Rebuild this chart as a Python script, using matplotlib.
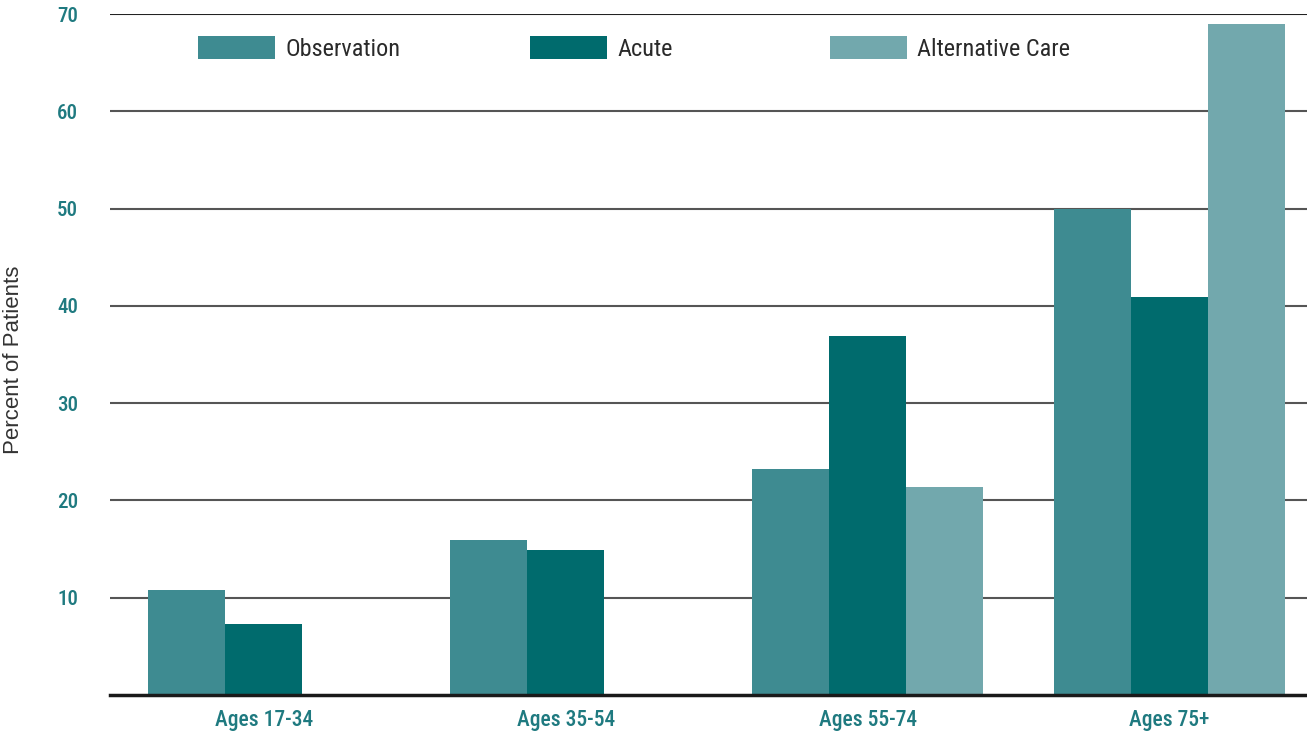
import matplotlib.pyplot as plt
import numpy as np

# data
groups = ["Ages 17-34", "Ages 35-54", "Ages 55-74", "Ages 75+"]
observation = [10.8, 15.9, 23.2, 50.0]
acute = [7.3, 14.9, 36.9, 40.9]
alternative = [0, 0, 21.4, 69.0]
yticks = [10, 20, 30, 40, 50, 60, 70]

COND = ["Roboto Condensed", "DejaVu Sans"]
TEAL_TXT = "#1f7a80"

fig = plt.figure(figsize=(13.07, 7.38), dpi=100)
ax = fig.add_axes([110 / 1307, 1 - 695 / 738, 1 - 110 / 1307, (695 - 14) / 738])

x = np.arange(len(groups))
w = 0.255
b1 = ax.bar(x - w, observation, w, color="#3e8b91", label="Observation", zorder=3)
b2 = ax.bar(x, acute, w, color="#006b6d", label="Acute", zorder=3)
b3 = ax.bar(x + w, alternative, w, color="#72a8ad", label="Alternative Care", zorder=3)

ax.set_xlim(-0.51, 3.455)
ax.set_ylim(0, 70)

# horizontal rules
for v in yticks:
    ax.axhline(v, color="#222222" if v == 70 else "#555555", lw=1.5, zorder=1)

for s in ["top", "right", "left"]:
    ax.spines[s].set_visible(False)
ax.spines["bottom"].set_linewidth(2.5)
ax.spines["bottom"].set_color("#1a1a1a")
ax.spines["bottom"].set_zorder(4)

ax.set_yticks(yticks)
ax.set_yticklabels([str(v) for v in yticks], family=COND, fontsize=15,
                   color=TEAL_TXT, fontweight="medium")
ax.set_xticks(x)
ax.set_xticklabels(groups, family=COND, fontsize=15.5, color=TEAL_TXT,
                   fontweight="medium")
ax.tick_params(axis="both", length=0)
ax.tick_params(axis="y", pad=23)
ax.tick_params(axis="x", pad=10)

fig.text(14 / 1307, 0.512, "Percent of Patients", rotation=90, ha="center",
         va="center", fontsize=16, color="#333333", family="Liberation Sans")

# legend entries placed individually
for handle, xpos in zip([b1, b2, b3], [198, 530, 830]):
    fig.legend(handles=[handle], loc="center left",
               bbox_to_anchor=(xpos / 1307, 1 - 48.5 / 738), frameon=False,
               prop={"family": COND, "size": 17.5}, handlelength=3.17,
               handleheight=1.03, handletextpad=0.42, borderpad=0,
               borderaxespad=0, labelcolor="#2a2a2a")

fig.savefig("out.png", dpi=100)
